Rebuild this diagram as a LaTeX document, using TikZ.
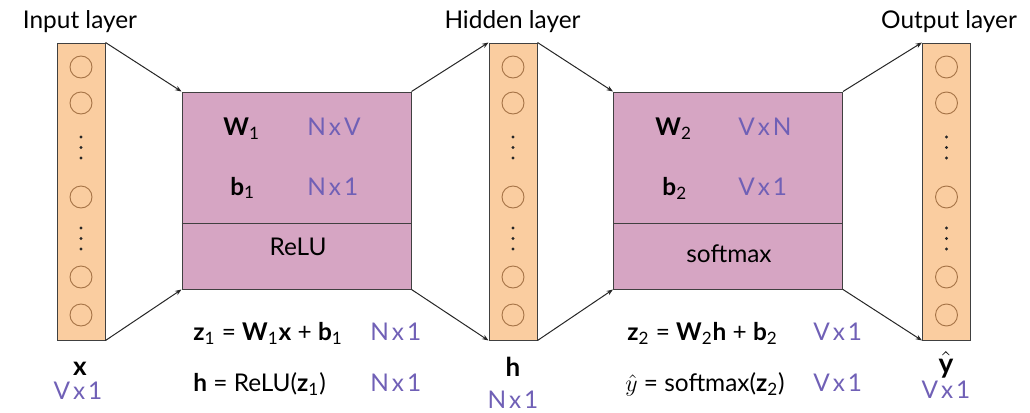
\documentclass[tikz,border=0pt]{standalone}
\usepackage{amsmath}
\usepackage{fontspec}
\setmainfont{Lato}
\usepackage{tikz}
\usetikzlibrary{positioning,arrows.meta,calc}
\definecolor{layerfill}{RGB}{250,205,160}
\definecolor{ringcolor}{RGB}{165,115,70}
\definecolor{boxfill}{RGB}{214,165,195}
\definecolor{dimcolor}{RGB}{112,96,182}
\newcommand{\shapeof}[2]{#1\hspace{0.12em}x\hspace{0.12em}#2}

\begin{document}
\begin{tikzpicture}[x=0.5pt, y=-0.5pt,
  layer/.style={draw=black!75, fill=layerfill, minimum width=24pt, minimum height=148.5pt, inner sep=0pt, line width=0.5pt},
  wbox/.style={draw=black!75, fill=boxfill, minimum width=114.5pt, minimum height=98.5pt, inner sep=0pt, line width=0.5pt},
  neuron/.style={circle, draw=ringcolor, minimum size=11pt, inner sep=0pt, line width=0.45pt},
  arr/.style={-{Stealth[length=3.2pt, width=2.4pt]}, line width=0.5pt, black!85},
  lbl/.style={font=\fontsize{12.2}{14}\selectfont, inner sep=0pt},
  dim/.style={lbl, text=dimcolor},
  vec/.style={lbl, anchor=base, font=\fontsize{13}{15}\selectfont\bfseries},
]
\useasboundingbox (0,0) rectangle (1030,413);
% Layers
\foreach \n/\x in {in/81, hid/513, out/946.5} {
  \node[layer] (\n) at (\x,191.5) {};
  \foreach \y [count=\k] in {67,103,197,277,315}
    \node[neuron] (\n c\k) at (\x,\y) {};
  \foreach \y in {137,147.5,158,228,238.5,249}
    \fill[black!85] (\x,\y) circle (0.85pt);
}
% Weight boxes
\node[wbox] (w1) at (296.5,190.5) {};
\node[wbox] (w2) at (728,190.5) {};
\draw[line width=0.5pt, black!75] (w1.west |- 0,223) -- (w1.east |- 0,223);
\draw[line width=0.5pt, black!75] (w2.west |- 0,223) -- (w2.east |- 0,223);
% Connections
\draw[arr] (in.north east) -- (w1.north west);
\draw[arr] (in.south east) -- (w1.south west);
\draw[arr] (w1.north east) -- (hid.north west);
\draw[arr] (w1.south east) -- (hid.south west);
\draw[arr] (hid.north east) -- (w2.north west);
\draw[arr] (hid.south east) -- (w2.south west);
\draw[arr] (w2.north east) -- (out.north west);
\draw[arr] (w2.south east) -- (out.south west);
% Layer titles
\node[lbl, anchor=base] (tin) at (80,28) {Input layer};
\node[lbl, anchor=base] (thid) at (512.5,28) {Hidden layer};
\node[lbl, anchor=base] (tout) at (949,28) {Output layer};
% Layer vectors
\node[vec] (vx) at (80,375) {x};
\node[dim, anchor=base] (dx) at (78,399) {\shapeof{V}{1}};
\node[vec] (vh) at (513,376) {h};
\node[dim, anchor=base] (dh) at (513,408) {\shapeof{N}{1}};
\node[vec, font=\fontsize{14}{16}\selectfont] (vy) at (946,373) {$\hat{\mathbf{y}}$};
\node[dim, anchor=base] (dy) at (946,398) {\shapeof{V}{1}};
% Box contents
\foreach \i/\lx/\dx/\ra/\rb/\ca in {1/223/307/N/V/N, 2/655/738/V/N/V} {
  \node[lbl, anchor=base west] (W\i) at (\lx,135) {\textbf{W}\textsubscript{\i}};
  \node[lbl, anchor=base west] (b\i) at (\lx+7,195) {\textbf{b}\textsubscript{\i}};
  \node[dim, anchor=base west] (dW\i) at (\dx,135) {\shapeof{\ra}{\rb}};
  \node[dim, anchor=base west] (db\i) at (\dx,195) {\shapeof{\ca}{1}};
}
\node[lbl, anchor=base] (relu) at (298,255) {ReLU};
\node[lbl, anchor=base] (smax) at (729,262) {softmax};
% Equations
\node[lbl, anchor=base west] (eqz1) at (193,340) {\textbf{z}\textsubscript{1} = \textbf{W}\textsubscript{1}\textbf{x} + \textbf{b}\textsubscript{1}};
\node[lbl, anchor=base west] (eqh) at (193,391) {\textbf{h} = ReLU(\textbf{z}\textsubscript{1})};
\node[dim, anchor=base west] (dz1) at (370,340) {\shapeof{N}{1}};
\node[dim, anchor=base west] (dhh) at (370,391) {\shapeof{N}{1}};
\node[lbl, anchor=base west] (eqz2) at (627,340) {\textbf{z}\textsubscript{2} = \textbf{W}\textsubscript{2}\textbf{h} + \textbf{b}\textsubscript{2}};
\node[lbl, anchor=base west] (eqy) at (625,391) {$\hat{y}$ = softmax(\textbf{z}\textsubscript{2})};
\node[dim, anchor=base west] (dz2) at (813,340) {\shapeof{V}{1}};
\node[dim, anchor=base west] (dyy) at (813,391) {\shapeof{V}{1}};
\end{tikzpicture}
\end{document}
